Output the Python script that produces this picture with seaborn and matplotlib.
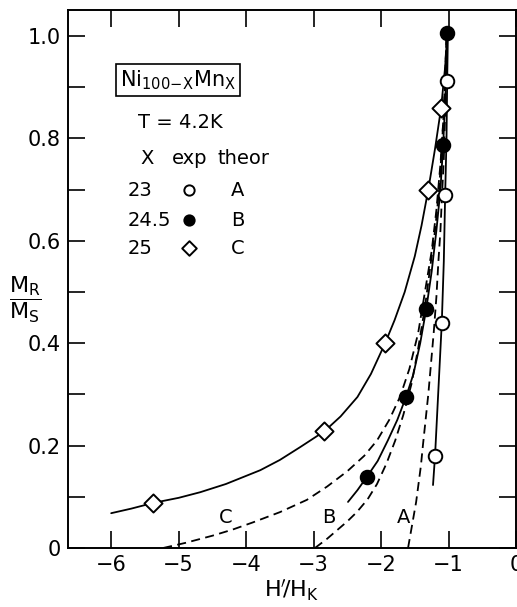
import numpy as np
import pandas as pd
import matplotlib
matplotlib.use("Agg")
import matplotlib.pyplot as plt
import seaborn as sns
from matplotlib.ticker import MultipleLocator, FuncFormatter

# ---- data ----
# experimental points
x23 = [-1.02, -1.05, -1.10, -1.20]
y23 = [0.912, 0.69, 0.44, 0.18]
x245 = [-1.02, -1.08, -1.33, -1.63, -2.21]
y245 = [1.006, 0.787, 0.467, 0.295, 0.139]
x25 = [-1.11, -1.30, -1.94, -2.84, -5.38]
y25 = [0.86, 0.70, 0.40, 0.228, 0.088]

# solid guide curves through experimental points
solA_x = [-1.23, -1.20, -1.15, -1.10, -1.07, -1.05, -1.03, -1.02, -1.01]
solA_y = [0.123, 0.18, 0.31, 0.44, 0.56, 0.69, 0.80, 0.912, 1.0]
solB_x = [-2.49, -2.35, -2.21, -2.05, -1.90, -1.76, -1.63, -1.52, -1.42, -1.33,
          -1.25, -1.18, -1.12, -1.08, -1.05, -1.03, -1.02]
solB_y = [0.09, 0.113, 0.139, 0.17, 0.21, 0.25, 0.295, 0.34, 0.40, 0.467,
          0.54, 0.62, 0.70, 0.787, 0.87, 0.94, 1.006]
solC_x = [-6.0, -5.7, -5.38, -5.0, -4.68, -4.3, -3.79, -3.5, -3.2, -2.84, -2.6,
          -2.35, -2.15, -1.94, -1.80, -1.65, -1.50, -1.40, -1.30, -1.20, -1.11, -1.05, -1.02]
solC_y = [0.068, 0.077, 0.088, 0.098, 0.109, 0.125, 0.152, 0.172, 0.197, 0.228, 0.257,
          0.295, 0.34, 0.40, 0.445, 0.50, 0.57, 0.63, 0.70, 0.78, 0.86, 0.94, 1.0]

# dashed theoretical curves
thA_x = [-1.60, -1.56, -1.52, -1.48, -1.45, -1.41, -1.38, -1.34, -1.30, -1.26,
         -1.22, -1.18, -1.15, -1.12, -1.10, -1.07, -1.05, -1.03, -1.02]
thA_y = [0.0, 0.03, 0.06, 0.09, 0.12, 0.16, 0.20, 0.25, 0.30, 0.36,
         0.42, 0.49, 0.56, 0.62, 0.68, 0.76, 0.85, 0.93, 1.0]
thB_x = [-2.98, -2.8, -2.65, -2.5, -2.36, -2.2, -2.06, -1.92, -1.79, -1.67,
         -1.55, -1.45, -1.35, -1.27, -1.20, -1.14, -1.10, -1.06, -1.03]
thB_y = [0.0, 0.018, 0.035, 0.052, 0.07, 0.095, 0.125, 0.165, 0.21, 0.26,
         0.32, 0.39, 0.47, 0.55, 0.62, 0.70, 0.78, 0.88, 1.0]
thC_x = [-5.23, -4.9, -4.5, -4.2, -3.9, -3.5, -3.1, -2.8, -2.5, -2.25, -2.06,
         -1.88, -1.72, -1.58, -1.45, -1.35, -1.25, -1.18, -1.12, -1.07, -1.03]
thC_y = [0.0, 0.01, 0.024, 0.036, 0.05, 0.07, 0.094, 0.12, 0.15, 0.18, 0.21,
         0.25, 0.295, 0.35, 0.42, 0.50, 0.58, 0.66, 0.75, 0.85, 1.0]

curve_labels = ["A", "B", "C"]
label_x = [-1.67, -2.77, -4.30]
label_y = [0.06, 0.06, 0.06]

xticks = [-6, -5, -4, -3, -2, -1, 0]
yticks = [0, 0.2, 0.4, 0.6, 0.8, 1.0]

# ---- figure ----
sns.set_theme(style="white")
plt.rcParams['font.family'] = ['DejaVu Sans']
plt.rcParams['mathtext.fontset'] = 'dejavusans'
plt.rcParams['text.color'] = 'black'
plt.rcParams['axes.labelcolor'] = 'black'
plt.rcParams['xtick.color'] = 'black'
plt.rcParams['ytick.color'] = 'black'

fig = plt.figure(figsize=(5.17, 6.07), dpi=100)
W, H = 517, 607
ax = fig.add_axes([68 / W, (H - 548) / H, (516 - 68) / W, (548 - 10) / H])

lw = 1.3
for xs, ys in [(solA_x, solA_y), (solB_x, solB_y), (solC_x, solC_y)]:
    sns.lineplot(x=xs, y=ys, ax=ax, sort=False, estimator=None, color="black", lw=lw)
for xs, ys in [(thA_x, thA_y), (thB_x, thB_y), (thC_x, thC_y)]:
    sns.lineplot(x=xs, y=ys, ax=ax, sort=False, estimator=None, color="black", lw=lw,
                 linestyle=(0, (5, 3)))

sns.scatterplot(x=x23, y=y23, ax=ax, marker="o", s=95, facecolor="white",
                edgecolor="black", linewidth=1.4, zorder=5)
sns.scatterplot(x=x245, y=y245, ax=ax, marker="o", s=95, facecolor="black",
                edgecolor="black", linewidth=1.4, zorder=5)
sns.scatterplot(x=x25, y=y25, ax=ax, marker="D", s=85, facecolor="white",
                edgecolor="black", linewidth=1.4, zorder=5)

for t, lx, ly in zip(curve_labels, label_x, label_y):
    ax.text(lx, ly, t, fontsize=14, ha="center", va="center")

ax.set_xlim(-6.64, 0)
ax.set_ylim(0, 1.051)
ax.set_xticks(xticks)
ax.set_yticks(yticks)
ax.yaxis.set_minor_locator(MultipleLocator(0.1))
ax.yaxis.set_major_formatter(FuncFormatter(lambda v, p: "0" if abs(v) < 1e-9 else f"{v:.1f}"))
ax.xaxis.set_major_formatter(FuncFormatter(lambda v, p: "0" if abs(v) < 1e-9 else f"\u2212{abs(v):.0f}"))

ax.tick_params(axis="both", which="both", direction="in", length=12, width=1.2,
               top=True, right=True, bottom=True, left=True, color="black",
               labelsize=15, pad=5, labelcolor="black")
for s in ax.spines.values():
    s.set_visible(True)
    s.set_color("black")
    s.set_linewidth(1.4)

ax.set_xlabel(r"$\mathrm{H^{\prime}\!/H_K}$", fontsize=16, labelpad=2, color="black")
ax.set_ylabel("")
fig.text(25 / W, (H - 300) / H, r"$\dfrac{\mathrm{M_R}}{\mathrm{M_S}}$", fontsize=16,
         ha="center", va="center", color="black")

# legend-like annotation
def fx(px):
    return (px - 68) / 448
def fy(py):
    return (548 - py) / 538

ax.text(fx(120), fy(80), r"$\mathrm{Ni_{100\!-\!X}Mn_X}$", transform=ax.transAxes,
        fontsize=15, ha="left", va="center",
        bbox=dict(boxstyle="square,pad=0.2", fc="white", ec="black", lw=1.2))
ax.text(fx(180), fy(122), "T = 4.2K", transform=ax.transAxes, fontsize=14, ha="center", va="center")
ax.text(fx(147), fy(158), "X", transform=ax.transAxes, fontsize=14, ha="center", va="center")
ax.text(fx(172), fy(158), "exp", transform=ax.transAxes, fontsize=14, ha="left", va="center")
ax.text(fx(217), fy(158), "theor", transform=ax.transAxes, fontsize=14, ha="left", va="center")

rows_x = ["23", "24.5", "25"]
rows_mark = ["o", "o", "D"]
rows_fc = ["white", "black", "white"]
rows_py = [190, 220, 248]
for lab, mk, fc, py, th in zip(rows_x, rows_mark, rows_fc, rows_py, curve_labels):
    ax.text(fx(128), fy(py), lab, transform=ax.transAxes, fontsize=14, ha="left", va="center")
    ax.scatter([fx(189)], [fy(py)], transform=ax.transAxes, marker=mk, s=55,
               facecolor=fc, edgecolor="black", linewidth=1.4, zorder=5)
    ax.text(fx(238), fy(py), th, transform=ax.transAxes, fontsize=14, ha="center", va="center")

fig.savefig("out.png", dpi=100)
